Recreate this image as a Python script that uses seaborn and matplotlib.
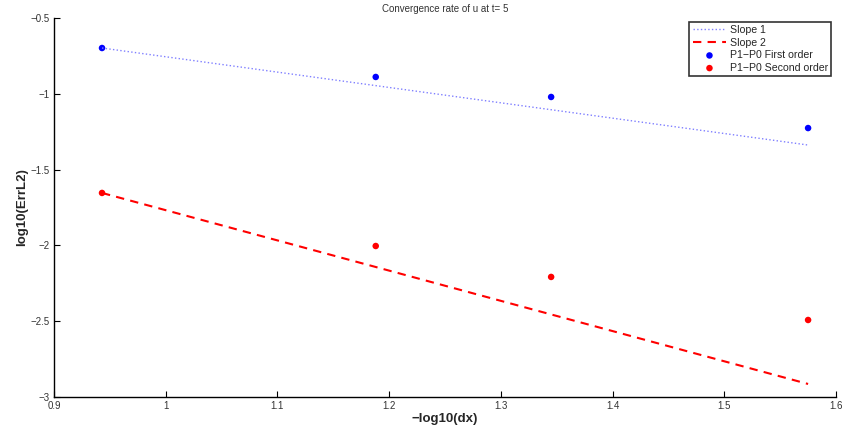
import matplotlib
matplotlib.use("Agg")
import matplotlib.pyplot as plt
import seaborn as sns
import pandas as pd

# data
x_pts = [0.943, 1.188, 1.345, 1.575]
err_first = [-0.698, -0.889, -1.021, -1.226]
err_second = [-1.654, -2.004, -2.208, -2.492]
x_line = [0.943, 1.575]
slope1 = [-0.698, -1.338]
slope2 = [-1.654, -2.914]
xticks = [0.9, 1.0, 1.1, 1.2, 1.3, 1.4, 1.5, 1.6]
yticks = [-3, -2.5, -2, -1.5, -1, -0.5]

sns.set_style("ticks")
plt.rcParams['font.family'] = ['Liberation Sans', 'DejaVu Sans']
plt.rcParams['axes.unicode_minus'] = True

fig = plt.figure(figsize=(8.46, 4.42), dpi=100)
ax = fig.add_axes([0.0638, 0.1018, 0.9244, 0.8575])

df_l1 = pd.DataFrame({"x": x_line, "y": slope1})
df_l2 = pd.DataFrame({"x": x_line, "y": slope2})
df_p1 = pd.DataFrame({"x": x_pts, "y": err_first})
df_p2 = pd.DataFrame({"x": x_pts, "y": err_second})

sns.lineplot(data=df_l1, x="x", y="y", ax=ax, color="#8080ff", linestyle=":",
             linewidth=1.0, label="Slope 1")
sns.lineplot(data=df_l2, x="x", y="y", ax=ax, color="#ff0000", linestyle=(0, (4, 3)),
             linewidth=1.5, label="Slope 2")
sns.scatterplot(data=df_p1, x="x", y="y", ax=ax, color="#0000ff", s=22,
                edgecolor="none", label="P1\u2212P0 First order")
sns.scatterplot(data=df_p2, x="x", y="y", ax=ax, color="#ff0000", s=22,
                edgecolor="none", label="P1\u2212P0 Second order")

ax.set_xlim(0.9, 1.6)
ax.set_ylim(-3, -0.5)
ax.set_xticks(xticks)
ax.set_xticklabels(["0.9", "1", "1.1", "1.2", "1.3", "1.4", "1.5", "1.6"])
ax.set_yticks(yticks)
ax.set_yticklabels(["\u22123", "\u22122.5", "\u22122", "\u22121.5", "\u22121", "\u22120.5"])
ax.tick_params(direction="in", length=4, width=0.8, labelsize=7, colors="black",
               labelcolor="#333333")
ax.tick_params(axis="x", pad=3)
ax.tick_params(axis="y", pad=3)
for s in ["top", "right"]:
    ax.spines[s].set_visible(False)
for s in ["left", "bottom"]:
    ax.spines[s].set_linewidth(1.0)
    ax.spines[s].set_color("black")

ax.set_title("Convergence rate of u at t= 5", fontsize=7, pad=4, color="#333333")
ax.set_xlabel("\u2212log10(dx)", fontsize=9.5, fontweight="bold", labelpad=1)
ax.set_ylabel("log10(ErrL2)", fontsize=9.5, fontweight="bold", labelpad=2)

leg = ax.legend(loc="upper right", fontsize=7.6, frameon=True, fancybox=False,
                edgecolor="black", handlelength=3.2, handletextpad=0.3,
                borderpad=0.3, labelspacing=0.25, borderaxespad=0,
                bbox_to_anchor=(0.9935, 0.99))
leg.get_frame().set_linewidth(1.2)

fig.savefig("out.png", dpi=100)
